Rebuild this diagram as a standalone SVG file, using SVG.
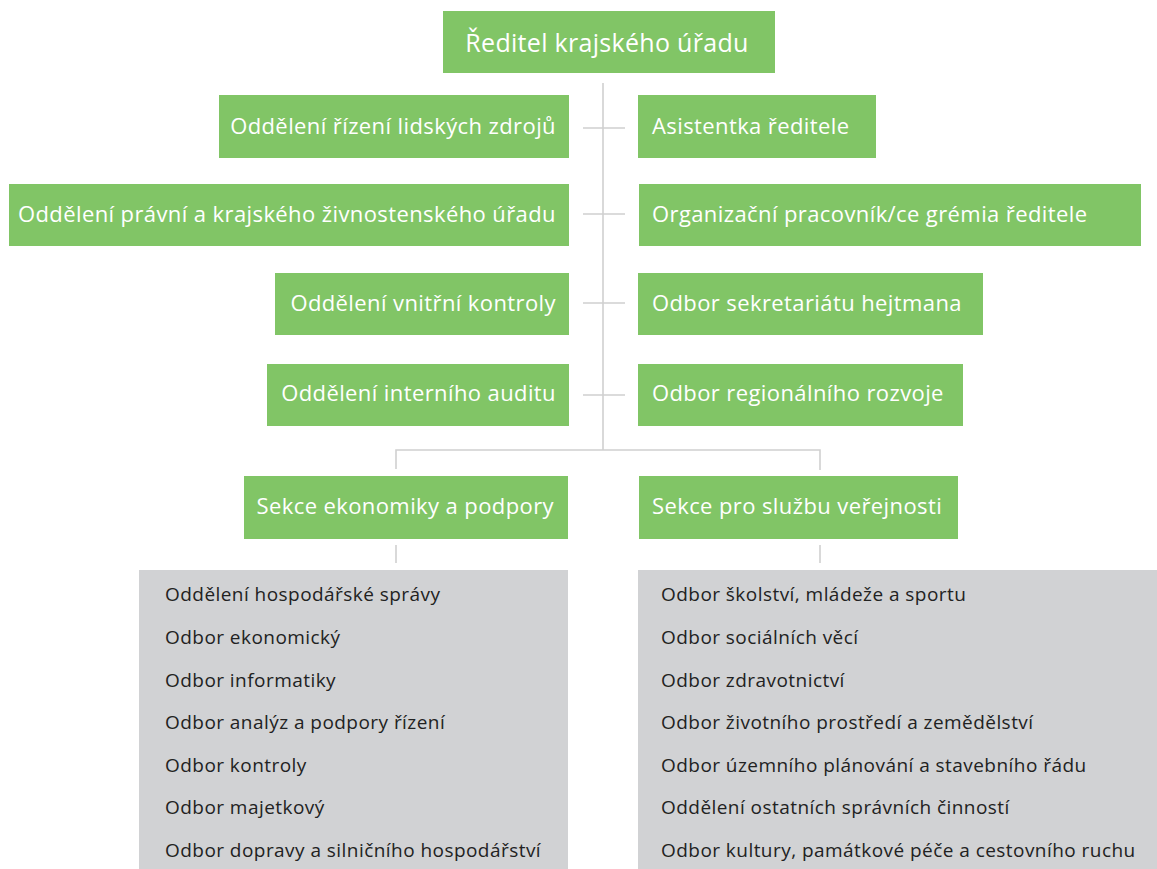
<svg xmlns="http://www.w3.org/2000/svg" width="1157" height="869" viewBox="0 0 1157 869">
<style>
.g{fill:#81c566}
.gr{fill:#d1d2d4}
.t{font-family:"Open Sans","Noto Sans","Liberation Sans",sans-serif;font-size:22px;letter-spacing:0.4px;fill:#ffffff}
.tt{font-family:"Open Sans","Noto Sans","Liberation Sans",sans-serif;font-size:25px;letter-spacing:0.3px;fill:#ffffff}
.l{font-family:"Open Sans","Noto Sans","Liberation Sans",sans-serif;font-size:19px;letter-spacing:0.45px;fill:#222222}
.c{stroke:#d0d0d0;stroke-width:1.6;fill:none}
</style>
<rect width="1157" height="869" fill="#ffffff"/>
<g id="connectors">
<path class="c" d="M603 83V450"/>
<path class="c" d="M583 128H625M583 214H625M583 303H625M583 395H625"/>
<path class="c" d="M396 469V450H820V470"/>
<path class="c" d="M396 545V563M820 545V563"/>
</g>
<g id="n-director"><rect class="g" x="443" y="11" width="332" height="62"/><text class="tt" x="607" y="52" text-anchor="middle">Ředitel krajského úřadu</text></g>
<g id="n-hr"><rect class="g" x="219" y="95" width="350" height="63"/><text class="t" x="556" y="134" text-anchor="end">Oddělení řízení lidských zdrojů</text></g>
<g id="n-asist"><rect class="g" x="638" y="95" width="238" height="63"/><text class="t" x="652" y="134">Asistentka ředitele</text></g>
<g id="n-legal"><rect class="g" x="9" y="184" width="560" height="62"/><text class="t" x="556" y="222" text-anchor="end">Oddělení právní a krajského živnostenského úřadu</text></g>
<g id="n-org"><rect class="g" x="639" y="184" width="502" height="62"/><text class="t" x="652" y="222">Organizační pracovník/ce grémia ředitele</text></g>
<g id="n-control"><rect class="g" x="275" y="273" width="294" height="62"/><text class="t" x="556" y="311" text-anchor="end">Oddělení vnitřní kontroly</text></g>
<g id="n-secr"><rect class="g" x="638" y="273" width="345" height="62"/><text class="t" x="652" y="311">Odbor sekretariátu hejtmana</text></g>
<g id="n-audit"><rect class="g" x="267" y="364" width="302" height="62"/><text class="t" x="556" y="401" text-anchor="end">Oddělení interního auditu</text></g>
<g id="n-region"><rect class="g" x="638" y="364" width="325" height="62"/><text class="t" x="652" y="401">Odbor regionálního rozvoje</text></g>
<g id="n-sek-ek"><rect class="g" x="244" y="476" width="324" height="63"/><text class="t" x="554" y="514" text-anchor="end">Sekce ekonomiky a podpory</text></g>
<g id="n-sek-sv"><rect class="g" x="639" y="476" width="319" height="63"/><text class="t" x="652" y="514">Sekce pro službu veřejnosti</text></g>
<g id="n-list-ek"><rect class="gr" x="139" y="570" width="429" height="299"/>
<text class="l" x="165" y="601">Oddělení hospodářské správy</text>
<text class="l" x="165" y="644">Odbor ekonomický</text>
<text class="l" x="165" y="687">Odbor informatiky</text>
<text class="l" x="165" y="729">Odbor analýz a podpory řízení</text>
<text class="l" x="165" y="772">Odbor kontroly</text>
<text class="l" x="165" y="814">Odbor majetkový</text>
<text class="l" x="165" y="857">Odbor dopravy a silničního hospodářství</text>
</g>
<g id="n-list-sv"><rect class="gr" x="638" y="570" width="519" height="299"/>
<text class="l" x="661" y="601">Odbor školství, mládeže a sportu</text>
<text class="l" x="661" y="644">Odbor sociálních věcí</text>
<text class="l" x="661" y="687">Odbor zdravotnictví</text>
<text class="l" x="661" y="729">Odbor životního prostředí a zemědělství</text>
<text class="l" x="661" y="772">Odbor územního plánování a stavebního řádu</text>
<text class="l" x="661" y="814">Oddělení ostatních správních činností</text>
<text class="l" x="661" y="857">Odbor kultury, památkové péče a cestovního ruchu</text>
</g>
</svg>
